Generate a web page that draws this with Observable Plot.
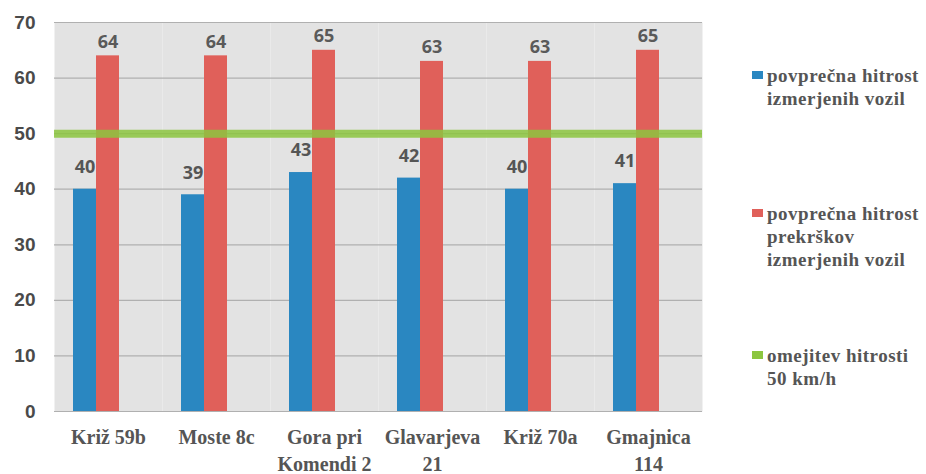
<!DOCTYPE html>
<html>
<head>
<meta charset="utf-8">
<script src="https://cdn.jsdelivr.net/npm/d3@7"></script>
<script src="https://cdn.jsdelivr.net/npm/@observablehq/plot@0.6"></script>
<style>
  body { margin: 0; background: #fff; }
  #wrap { position: relative; width: 926px; height: 474px; overflow: hidden; }
  #chart { position: absolute; left: 0; top: 0; }
  #legend { position: absolute; left: 740px; top: 0; }
</style>
</head>
<body>
<div id="wrap">
  <div id="chart"></div>
  <div id="legend"></div>
</div>
<script>
const categories = ["Križ 59b", "Moste 8c", "Gora pri Komendi 2", "Glavarjeva 21", "Križ 70a", "Gmajnica 114"];
const categoryLabels = ["Križ 59b", "Moste 8c", "Gora pri\nKomendi 2", "Glavarjeva\n21", "Križ 70a", "Gmajnica\n114"];
const seriesNames = ["povprečna hitrost izmerjenih vozil", "povprečna hitrost prekrškov izmerjenih vozil"];
const avgSpeed = [40, 39, 43, 42, 40, 41];
const violationSpeed = [64, 64, 65, 63, 63, 65];
const speedLimit = 50;
const limitName = "omejitev hitrosti 50 km/h";
const yTicks = [0, 10, 20, 30, 40, 50, 60, 70];

const legendLines = [["povprečna hitrost", "izmerjenih vozil"], ["povprečna hitrost", "prekrškov", "izmerjenih vozil"], ["omejitev hitrosti", "50 km/h"]];
const colors = ["#2a87c1", "#e0605a", "#8cc63f"];

const data = categories.flatMap((c, i) => [
  {loc: c, series: seriesNames[0], value: avgSpeed[i]},
  {loc: c, series: seriesNames[1], value: violationSpeed[i]}
]);
const labelOf = new Map(categories.map((c, i) => [c, categoryLabels[i]]));

const chart = Plot.plot({
  width: 730,
  height: 474,
  marginLeft: 52,
  marginRight: 27,
  marginTop: 22,
  marginBottom: 63,
  style: {background: "transparent", color: "#555", overflow: "visible"},
  fx: {domain: categories, padding: 0, label: null, axis: null},
  x: {domain: seriesNames, axis: null, paddingInner: 0, paddingOuter: 1.26, align: 0.3},
  y: {domain: [0, 70], label: null, axis: null},
  color: {domain: seriesNames, range: colors.slice(0, 2)},
  marks: [
    Plot.frame({fill: "#e3e3e3", stroke: null}),
    Plot.gridY(yTicks, {stroke: "#b0b0b0", strokeOpacity: 1, strokeWidth: 1.2}),
    Plot.barY(data, {fx: "loc", x: "series", y: "value", fill: "series"}),
    Plot.ruleY([speedLimit], {stroke: colors[2], strokeWidth: 8, strokeOpacity: 0.85}),
    Plot.text(data.filter(d => d.series === seriesNames[0]), {fx: "loc", x: "series", y: "value", text: d => String(d.value), dy: -22, fill: "#555", fontSize: 18, fontWeight: "bold", fontFamily: "Open Sans"}),
    Plot.text(data.filter(d => d.series === seriesNames[1]), {fx: "loc", x: "series", y: "value", text: d => String(d.value), dy: -14, fill: "#5a5a5a", fontSize: 18, fontWeight: "bold", fontFamily: "Open Sans"}),
    Plot.axisY(yTicks, {anchor: "left", tickSize: 0, tickPadding: 19, fontSize: 19, fontWeight: "bold", fontFamily: "Liberation Sans", fill: "#4a4a4a"}),
    Plot.axisFx({anchor: "bottom", tickSize: 0, tickPadding: 13, tickFormat: d => labelOf.get(d), lineHeight: 1.35, fontSize: 20, fontWeight: "bold", fontFamily: "Liberation Serif", fill: "#555", label: null}),
    Plot.ruleY([0], {stroke: "#b0b0b0"})
  ]
});
document.getElementById("chart").appendChild(chart);

// Legend (outside the plot area, on the right)
const legendTops = [75, 213, 355];
const lineStep = 23;
const lsvg = d3.select("#legend").append("svg").attr("width", 186).attr("height", 474)
  .style("font-family", "'Liberation Serif', serif").style("font-weight", "bold").style("font-size", "19px");
legendLines.forEach((lines, i) => {
  const g = lsvg.append("g").attr("transform", `translate(12,${legendTops[i]})`);
  g.append("rect").attr("x", 0).attr("y", -4).attr("width", 11).attr("height", 8).attr("fill", colors[i]);
  const t = g.append("text").attr("x", 15).attr("fill", "#555").attr("letter-spacing", "0.5");
  lines.forEach((ln, j) => t.append("tspan").attr("x", 15).attr("y", j * lineStep).attr("dy", "0.35em").text(ln));
});
</script>
</body>
</html>
